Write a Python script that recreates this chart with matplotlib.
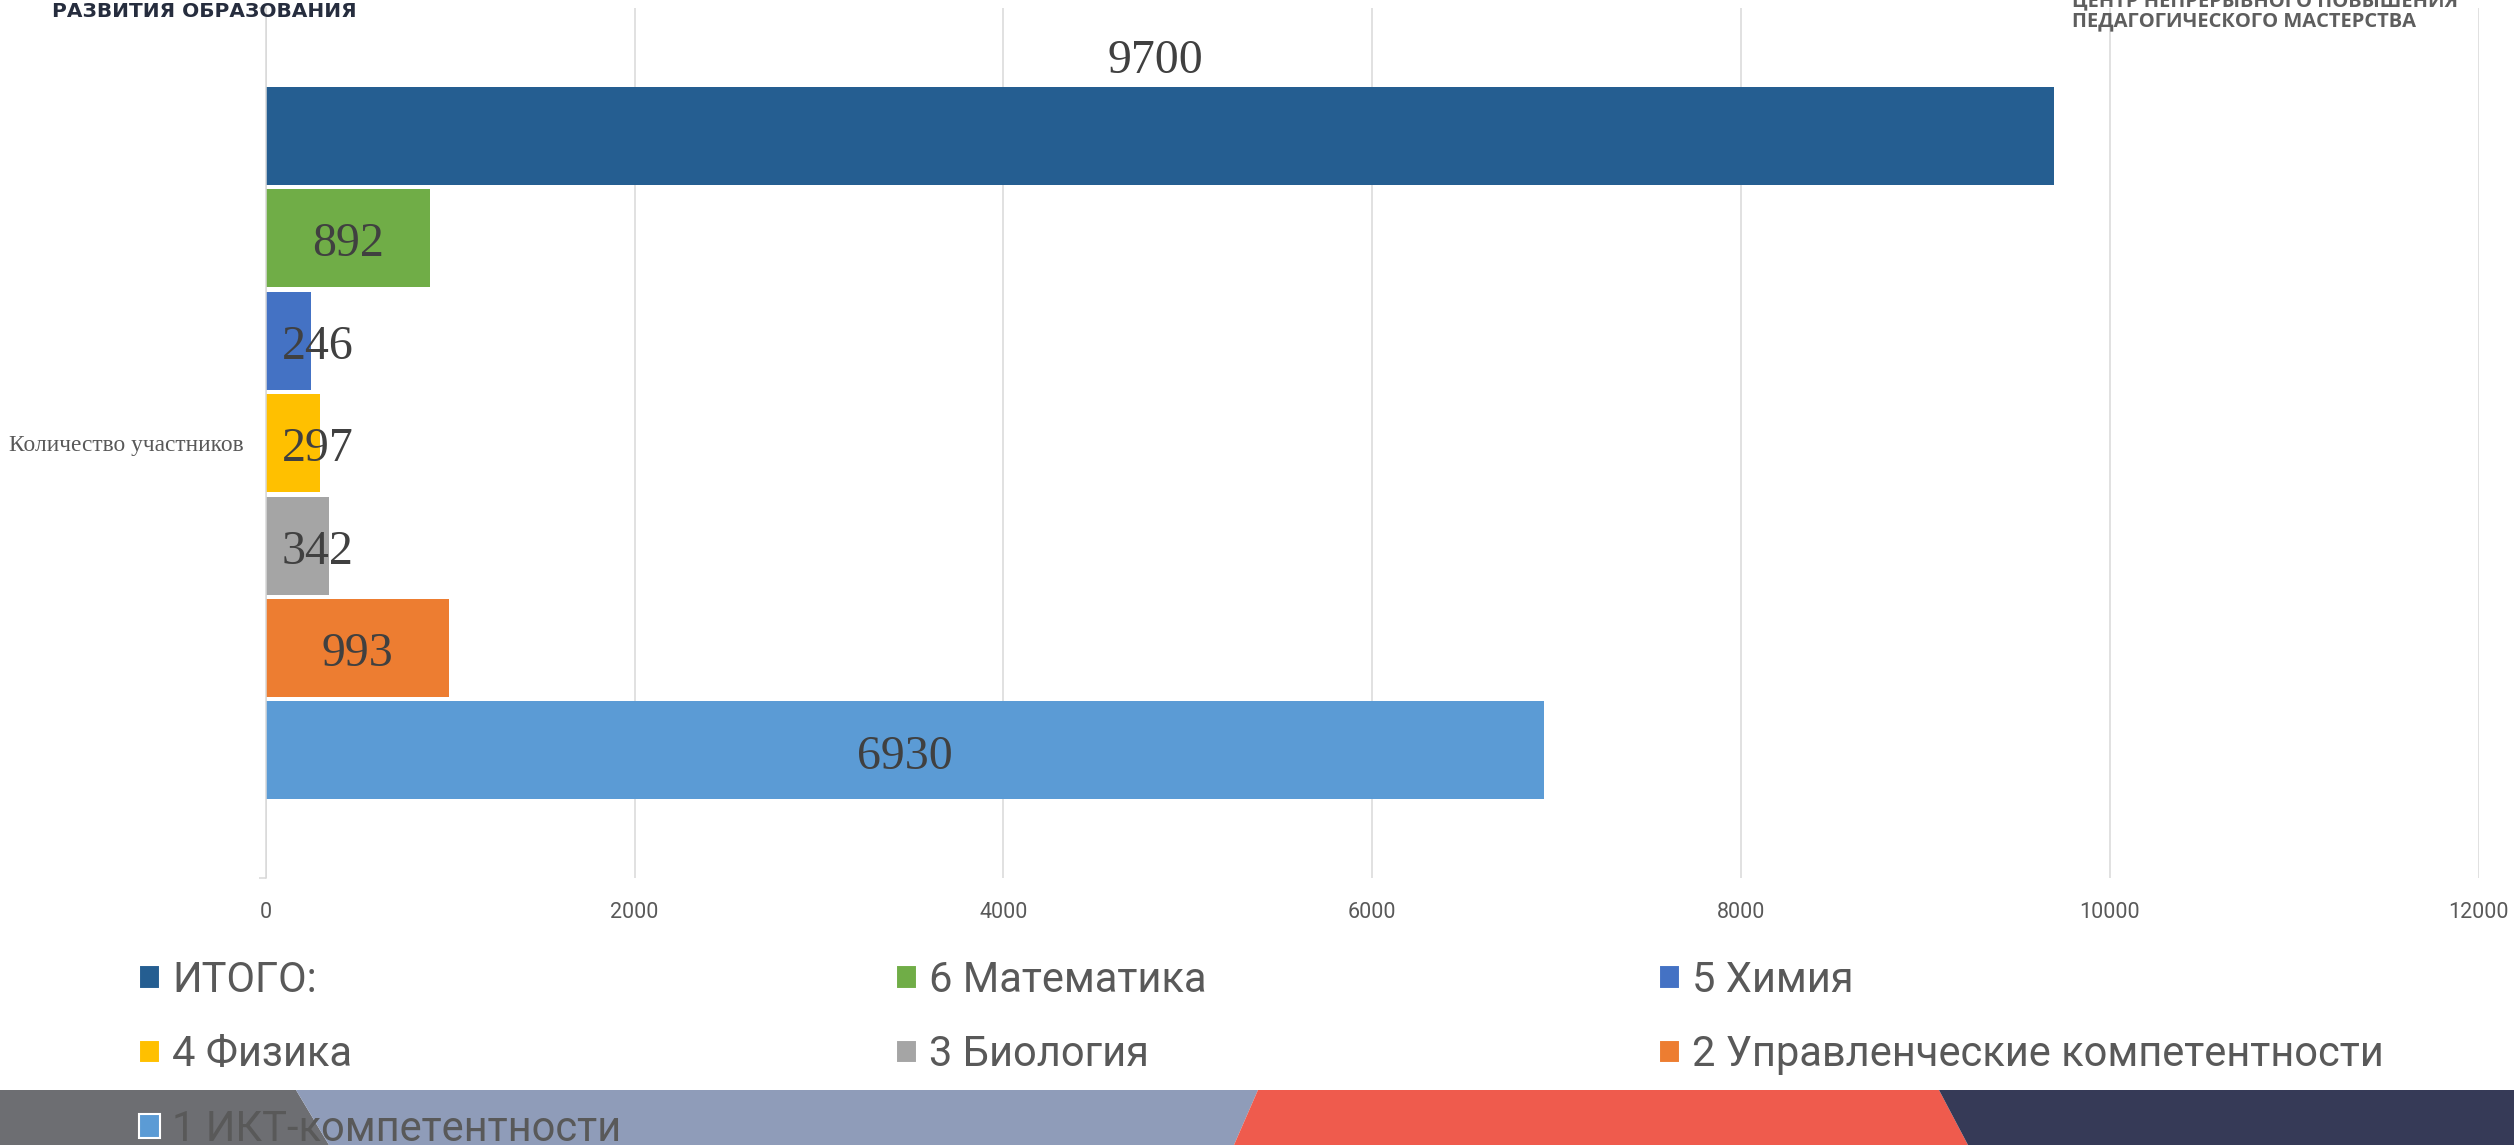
import matplotlib
matplotlib.use("Agg")
import matplotlib.pyplot as plt
from matplotlib.patches import Polygon

# Chart data
category = "Количество участников"
series_names = ["ИТОГО:", "6 Математика", "5 Химия", "4 Физика",
                "3 Биология", "2 Управленческие компетентности",
                "1 ИКТ-компетентности"]
values = [9700, 892, 246, 297, 342, 993, 6930]
colors = ["#255e91", "#70ad47", "#4472c4", "#ffc000",
          "#a5a5a5", "#ed7d31", "#5b9bd5"]
x_ticks = [0, 2000, 4000, 6000, 8000, 10000, 12000]

W, H = 2514, 1145
fig = plt.figure(figsize=(W / 100, H / 100), dpi=100)
fig.patch.set_facecolor("white")


def fx(px):
    return px / W


def fy(py):
    return 1 - py / H


# slide decoration: coloured band along the bottom
band = [
    ("#6d6e72", [(0, 1090), (296, 1090), (329, 1145), (0, 1145)]),
    ("#8f9cb9", [(296, 1090), (1258, 1090), (1234, 1145), (329, 1145)]),
    ("#ef5b4d", [(1258, 1090), (1939, 1090), (1968, 1145), (1234, 1145)]),
    ("#363a57", [(1939, 1090), (W, 1090), (W, 1145), (1968, 1145)]),
]
for col, pts in band:
    fig.patches.append(Polygon([(fx(x), fy(y)) for x, y in pts], closed=True,
                               transform=fig.transFigure, facecolor=col,
                               edgecolor="none", zorder=0))

# slide header fragments (top line on the right is cut off in the original)
fig.text(fx(52), fy(17), "РАЗВИТИЯ ОБРАЗОВАНИЯ", fontsize=14.5, fontweight="bold",
         color="#262d3e", family="DejaVu Sans", va="baseline")
fig.text(fx(2072), fy(6), "ЦЕНТР НЕПРЕРЫВНОГО ПОВЫШЕНИЯ", fontsize=14.5,
         fontweight="bold", color="#5e5e5e", family="Open Sans", va="baseline")
fig.text(fx(2072), fy(26), "ПЕДАГОГИЧЕСКОГО МАСТЕРСТВА", fontsize=14.5,
         fontweight="bold", color="#5e5e5e", family="Open Sans", va="baseline")

ax = fig.add_axes([fx(265.7), fy(878.3), fx(2478.5 - 265.7), 870.3 / H])
ax.patch.set_alpha(0)

n = len(values)
pitch = 0.1177
bar_h = 0.1126
for i, (name, v, c) in enumerate(zip(series_names, values, colors)):
    y = ((n - 1) / 2 - i) * pitch
    ax.barh(y, v, height=bar_h, color=c, label=name, zorder=2)
    lbl = dict(fontsize=34.5, family="Liberation Serif", color="#404040",
               va="baseline", textcoords="offset points", zorder=3)
    if i == 0:
        ax.annotate(str(v), xy=(v / 2, y + bar_h / 2), xytext=(-3, 10),
                    ha="center", **lbl)
    elif v < 400:
        ax.annotate(str(v), xy=(0, y), xytext=(11.5, -13), ha="left", **lbl)
    else:
        ax.annotate(str(v), xy=(v / 2, y), xytext=(0, -13), ha="center", **lbl)

ax.set_xlim(0, 12000)
ax.set_ylim(-0.5, 0.5)
ax.set_xticks(x_ticks)
ax.set_xticklabels([str(t) for t in x_ticks], family="Roboto", fontsize=15.5,
                   color="#595959")
ax.xaxis.grid(True, color="#d9d9d9", lw=1.1)
ax.set_axisbelow(True)
for s in ["top", "right", "bottom"]:
    ax.spines[s].set_visible(False)
ax.spines["left"].set_color("#d9d9d9")
ax.spines["left"].set_linewidth(1.1)
ax.tick_params(axis="x", length=0, pad=17)

ax.set_yticks([0])
ax.set_yticklabels([category], family="Liberation Serif", fontsize=16.8,
                   color="#595959")
ax.set_yticks([-0.5, 0.5], minor=True)
ax.tick_params(axis="y", which="major", length=0, pad=15.6)
ax.tick_params(axis="y", which="minor", length=5, width=1.1, color="#d9d9d9")

# legend laid out row by row in three columns
handles, labels = ax.get_legend_handles_labels()
columns = [[0, 3, 6], [1, 4], [2, 5]]
col_x = [139, 896, 1659]
for idx, x in zip(columns, col_x):
    leg = fig.legend([handles[k] for k in idx], [labels[k] for k in idx],
                     loc="upper left", bbox_to_anchor=(fx(x), fy(960)),
                     frameon=False, prop=dict(family="Roboto", size=30),
                     labelcolor="#595959", handlelength=0.5, handleheight=0.5,
                     handletextpad=0.3, labelspacing=0.8, borderpad=0,
                     borderaxespad=0)
    leg.set_zorder(5)
    for h in leg.legend_handles:
        h.set_edgecolor("white")
        h.set_linewidth(1.5)

fig.savefig("out.png", dpi=100)
